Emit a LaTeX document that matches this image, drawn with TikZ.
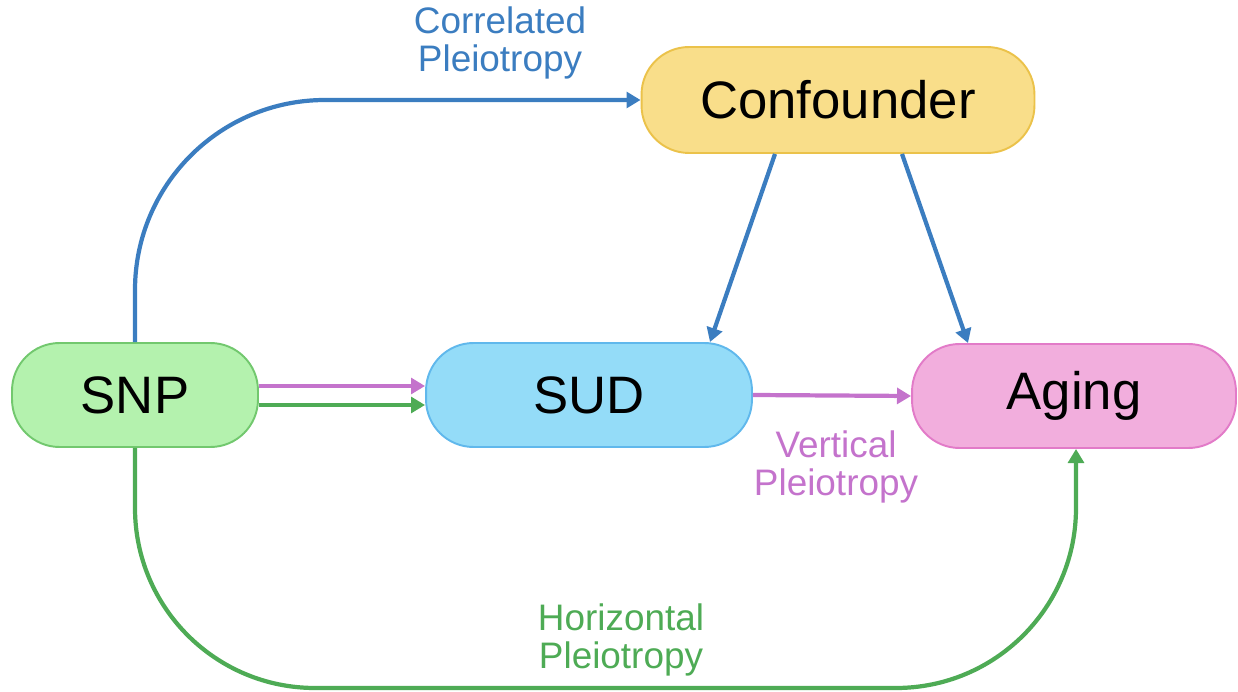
\documentclass[tikz,border=0pt]{standalone}
\usepackage{fontspec}
\setmainfont{Liberation Sans}
\usetikzlibrary{arrows.meta,calc}
\definecolor{snpfill}{HTML}{B4F2AE}
\definecolor{snpline}{HTML}{72C86E}
\definecolor{sudfill}{HTML}{94DCF8}
\definecolor{sudline}{HTML}{60B8EC}
\definecolor{agefill}{HTML}{F2AEDD}
\definecolor{ageline}{HTML}{E27BC8}
\definecolor{conffill}{HTML}{F9DE8A}
\definecolor{confline}{HTML}{EBC24A}
\definecolor{corrblue}{HTML}{3B7DC0}
\definecolor{vertpink}{HTML}{C473CC}
\definecolor{horigreen}{HTML}{4EAB55}

\begin{document}
\begin{tikzpicture}[x=0.02cm,y=-0.02cm,
	main_node/.style={draw,line width=1.1pt,rounded corners=0.95cm,minimum height=2.08cm,inner sep=0pt,font=\fontsize{30}{34}\selectfont},
	label_text/.style={align=center,font=\fontsize{21}{22}\selectfont},
	link/.style={line width=2.4pt,-{Triangle[length=8pt,width=9pt]}}]

		\useasboundingbox (0,0) rectangle (1238,692);

		\node[main_node,fill=snpfill,draw=snpline,minimum width=4.92cm] (1) at (135,395) {SNP};
		\node[main_node,fill=sudfill,draw=sudline,minimum width=6.52cm] (2) at (589,395) {SUD};
		\node[main_node,fill=agefill,draw=ageline,minimum width=6.48cm] (3) at (1074,396) {Aging};
		\node[main_node,fill=conffill,draw=confline,minimum width=7.86cm,minimum height=2.12cm] (4) at (838,100) {Confounder};

		\node[label_text,text=corrblue] (5) at (500,43) {Correlated\\Pleiotropy};
		\node[label_text,text=vertpink] (6) at (836,467) {Vertical\\Pleiotropy};
		\node[label_text,text=horigreen] (7) at (621,640) {Horizontal\\Pleiotropy};

		\coordinate (g) at (1076,688);

		\draw[link,corrblue,rounded corners=3.8cm] (1.north) |- (4.west);
		\draw[link,corrblue] ($(4.south)+(-63,0)$) -- ($(2.north)+(121,0)$);
		\draw[link,corrblue] ($(4.south)+(64,0)$) -- ($(3.north)+(-106,0)$);
		\draw[link,vertpink] ($(1.east)+(0,-9)$) -- ($(2.west)+(0,-9)$);
		\draw[link,horigreen] ($(1.east)+(0,10)$) -- ($(2.west)+(0,10)$);
		\draw[link,vertpink] (2.east) -- (3.west);
		\draw[link,horigreen,rounded corners=3.6cm] (1.south) |- (g) -- (3.south -| g);
		\end{tikzpicture}
\end{document}
